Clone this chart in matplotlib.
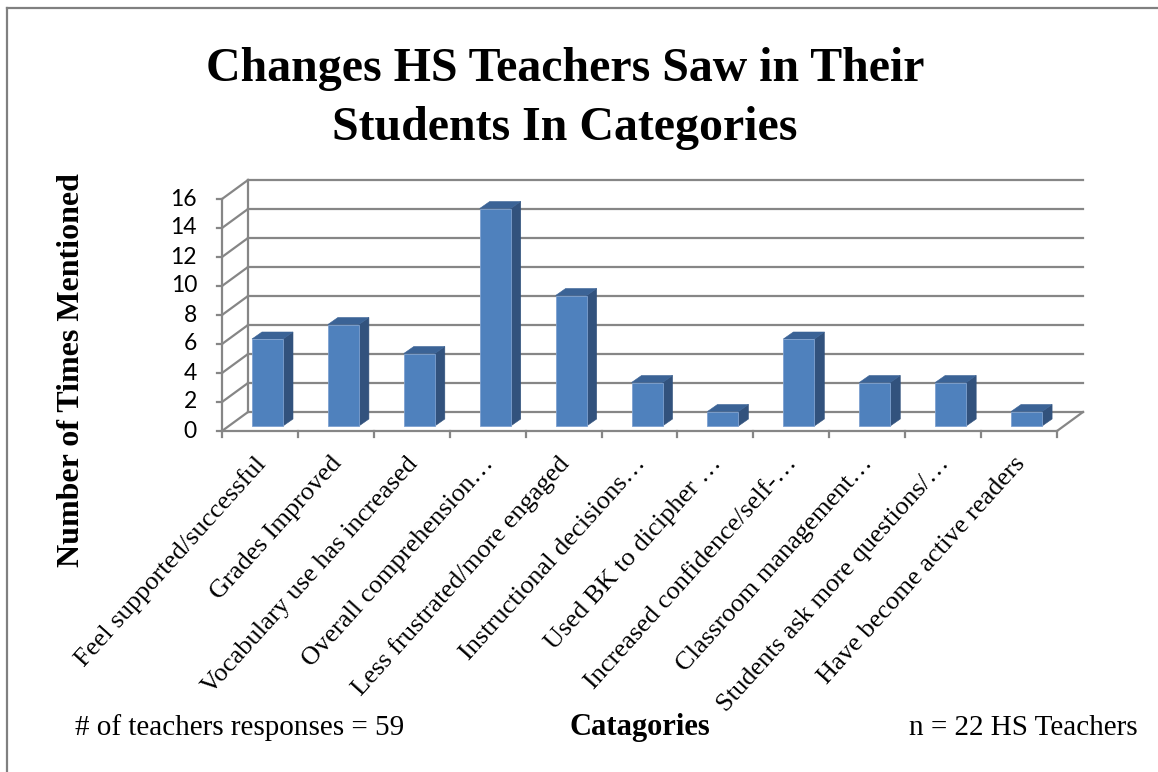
import matplotlib.pyplot as plt
from matplotlib.patches import Polygon
from matplotlib.lines import Line2D

# data
categories = ["Feel supported/successful", "Grades Improved",
              "Vocabulary use has increased", "Overall comprehension…",
              "Less frustrated/more engaged", "Instructional decisions…",
              "Used BK to dicipher …", "Increased confidence/self-…",
              "Classroom management…", "Students ask more questions/…",
              "Have become active readers"]
counts = [6, 7, 5, 15, 9, 3, 1, 6, 3, 3, 1]
y_ticks = [0, 2, 4, 6, 8, 10, 12, 14, 16]

title_lines = ["Changes HS Teachers Saw in Their", "Students In Categories"]
note_left = "# of teachers responses = 59"
note_right = "n = 22 HS Teachers"

W, H = 1158, 772
fig = plt.figure(figsize=(W / 100, H / 100), dpi=100)

# plot box in pixels (front floor edge / front value axis)
px0, px1 = 222, 1057
py0, py1 = 431, 199
ax = fig.add_axes([px0 / W, 1 - py0 / H, (px1 - px0) / W, (py0 - py1) / H])
n = len(categories)
ax.set_xlim(0, n)
ax.set_ylim(0, 16)
ax.axis('off')

ux = (px1 - px0) / n      # px per category
uy = (py0 - py1) / 16.0   # px per unit
dx, dy = 26 / ux, 19 / uy  # wall depth in data units
grid_c = '#868686'
lw = 1.6

# back wall gridlines + side wall diagonals
for v in y_ticks:
    ax.plot([dx, n + dx], [v + dy, v + dy], color=grid_c, lw=lw, clip_on=False, zorder=1)
    ax.plot([0, dx], [v, v + dy], color=grid_c, lw=lw, clip_on=False, zorder=1)
    ax.plot([-5 / ux, 0], [v, v], color=grid_c, lw=lw, clip_on=False, zorder=1)
    ax.text(-25 / ux, v, str(v), ha='right', va='center', fontsize=16.5,
            family='Lato', color='black')
ax.plot([0, 0], [0, 16], color=grid_c, lw=lw, clip_on=False, zorder=1)
ax.plot([dx, dx], [dy, 16 + dy], color=grid_c, lw=lw, clip_on=False, zorder=1)
# floor
ax.plot([0, n], [0, 0], color=grid_c, lw=lw, clip_on=False, zorder=1)
ax.plot([n, n + dx], [0, dy], color=grid_c, lw=lw, clip_on=False, zorder=1)
for i in range(n + 1):
    ax.plot([i, i], [0, -6 / uy], color=grid_c, lw=lw, clip_on=False, zorder=1)

# 3d-looking bars
b0, b1 = 30 / ux, 61 / ux      # front face within a category
base = 5 / uy                   # bar sits a bit into the floor
sx, sy = 10 / ux, 7 / uy        # bar depth
for i, v in enumerate(counts):
    xl, xr = i + b0, i + b1
    yb, yt = base, base + v
    front = Polygon([(xl, yb), (xr, yb), (xr, yt), (xl, yt)],
                    facecolor='#4F81BD', edgecolor='#7EA1D0', lw=0.6, zorder=3, clip_on=False)
    side = Polygon([(xr, yb), (xr + sx, yb + sy), (xr + sx, yt + sy), (xr, yt)],
                   facecolor='#32527D', edgecolor='#32527D', lw=0.4, zorder=3, clip_on=False)
    top = Polygon([(xl, yt), (xr, yt), (xr + sx, yt + sy), (xl + sx, yt + sy)],
                  facecolor='#3B6396', edgecolor='#3B6396', lw=0.4, zorder=3, clip_on=False)
    for p in (side, top, front):
        ax.add_patch(p)

# category labels (picture is a little stretched, so the slant is ~48 deg)
for i, lab in enumerate(categories):
    ax.text(i + 0.5 + 2 / ux, -29 / uy, lab, rotation=48, rotation_mode='anchor',
            ha='right', va='center', fontsize=19, family='Liberation Serif')

# titles and notes
for k, line in enumerate(title_lines):
    fig.text(565 / W, 1 - (81 + 59 * k) / H, line, ha='center', va='baseline',
             fontsize=34.5, fontweight='bold', family='Liberation Serif')
fig.text(72 / W, 1 - 370 / H, "Number of Times Mentioned", rotation=90,
         ha='center', va='center', fontsize=23, fontweight='bold', family='Liberation Serif')
fig.text(640 / W, 1 - 735 / H, "Catagories", ha='center', va='baseline',
         fontsize=22, fontweight='bold', family='Liberation Serif')
fig.text(75 / W, 1 - 735 / H, note_left, ha='left', va='baseline',
         fontsize=21, family='Liberation Serif')
fig.text(1138 / W, 1 - 735 / H, note_right, ha='right', va='baseline',
         fontsize=21, family='Liberation Serif')

# frame (left and top edges visible)
fig.add_artist(Line2D([6.5 / W, 6.5 / W], [0, 1 - 7.5 / H], color='#808080', lw=1.6))
fig.add_artist(Line2D([6.5 / W, 1], [1 - 7.5 / H, 1 - 7.5 / H], color='#808080', lw=1.6))

fig.savefig('out.png', dpi=100)
